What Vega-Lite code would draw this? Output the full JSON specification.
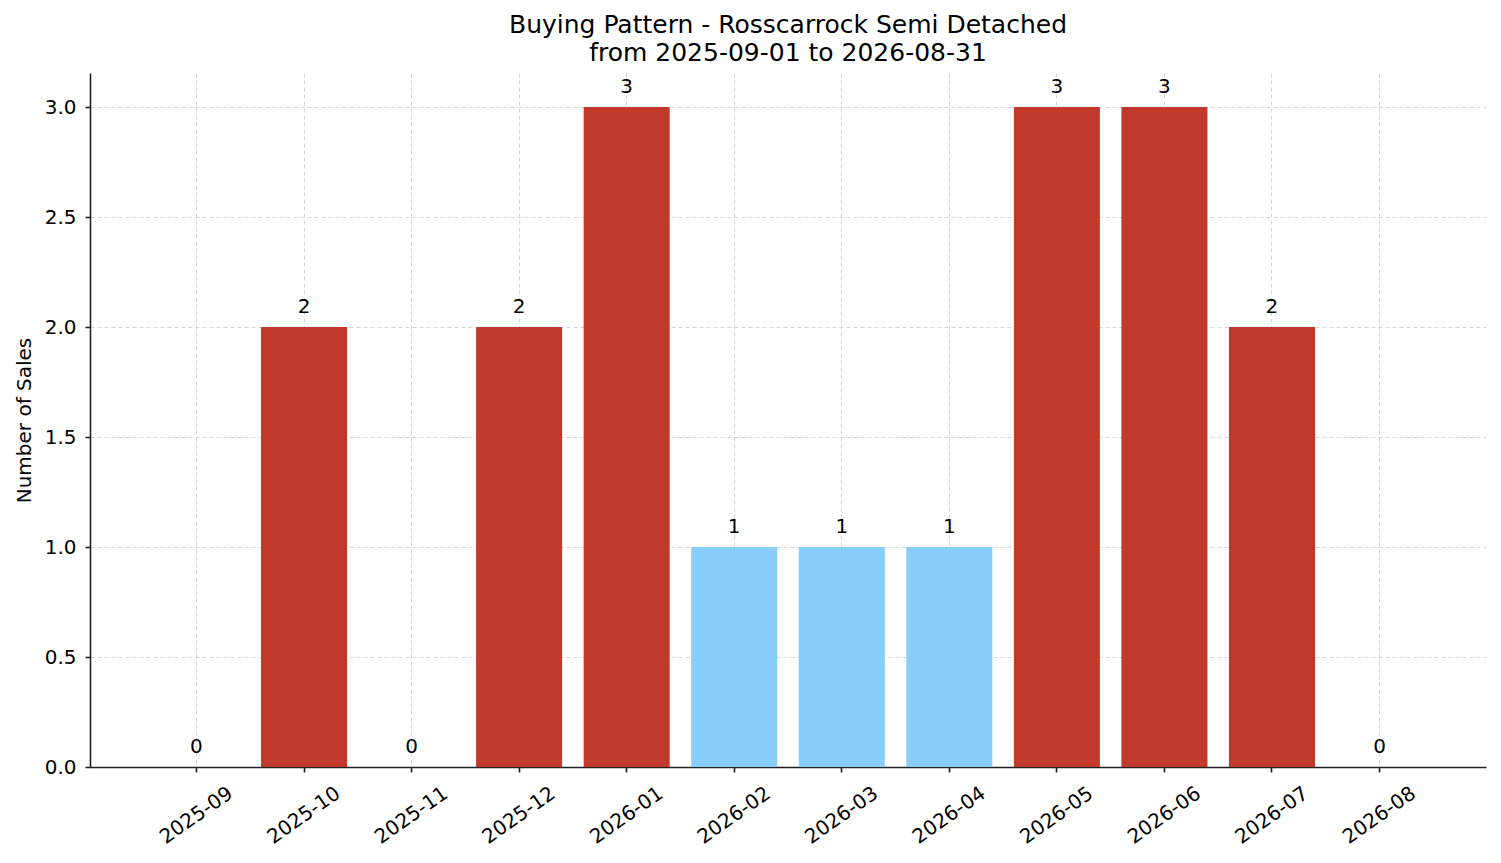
{
  "$schema": "https://vega.github.io/schema/vega-lite/v6.json",
  "width": 1396,
  "height": 694,
  "autosize": {"type": "none"},
  "padding": {"left": 90, "top": 73, "right": 15, "bottom": 96},
  "background": "white",
  "title": {
    "text": ["Buying Pattern - Rosscarrock Semi Detached", "from 2025-09-01 to 2026-08-31"],
    "font": "DejaVu Sans",
    "fontSize": 25,
    "fontWeight": "normal",
    "color": "black",
    "anchor": "middle",
    "lineHeight": 28,
    "offset": 7
  },
  "data": {
    "values": [
      {"month": "2025-09", "sales": 0},
      {"month": "2025-10", "sales": 2},
      {"month": "2025-11", "sales": 0},
      {"month": "2025-12", "sales": 2},
      {"month": "2026-01", "sales": 3},
      {"month": "2026-02", "sales": 1},
      {"month": "2026-03", "sales": 1},
      {"month": "2026-04", "sales": 1},
      {"month": "2026-05", "sales": 3},
      {"month": "2026-06", "sales": 3},
      {"month": "2026-07", "sales": 2},
      {"month": "2026-08", "sales": 0}
    ]
  },
  "config": {
    "view": {"stroke": null},
    "font": "DejaVu Sans",
    "axis": {
      "labelFont": "DejaVu Sans",
      "titleFont": "DejaVu Sans",
      "labelColor": "black",
      "titleColor": "black",
      "labelFontSize": 20,
      "titleFontSize": 20,
      "titleFontWeight": "normal",
      "domainColor": "#222222",
      "domainWidth": 1.6,
      "tickColor": "#222222",
      "tickWidth": 1.6,
      "tickSize": 5,
      "gridColor": "#cccccc",
      "gridDash": [4, 3],
      "gridWidth": 0.8,
      "labelOverlap": false,
      "zindex": 1
    }
  },
  "encoding": {
    "x": {
      "field": "month",
      "type": "ordinal",
      "sort": null,
      "scale": {"paddingInner": 0.2, "paddingOuter": 0.59},
      "axis": {
        "title": null,
        "labelAngle": -35,
        "labelAlign": "center",
        "labelBaseline": "middle",
        "labelPadding": 43,
        "grid": true,
        "bandPosition": 0.5
      }
    },
    "y": {
      "field": "sales",
      "type": "quantitative",
      "scale": {"domain": [0, 3.155], "nice": false},
      "axis": {
        "title": "Number of Sales",
        "values": [0, 0.5, 1, 1.5, 2, 2.5, 3],
        "format": ".1f",
        "titlePadding": 10,
        "labelPadding": 9
      }
    }
  },
  "layer": [
    {
      "mark": {"type": "bar"},
      "encoding": {
        "color": {
          "condition": {"test": "datum.sales >= 2", "value": "#c0392b"},
          "value": "#87cefa"
        }
      }
    },
    {
      "mark": {"type": "text", "baseline": "bottom", "dy": -10, "fontSize": 20, "color": "black", "font": "DejaVu Sans"},
      "encoding": {
        "text": {"field": "sales", "type": "quantitative"}
      }
    }
  ]
}
